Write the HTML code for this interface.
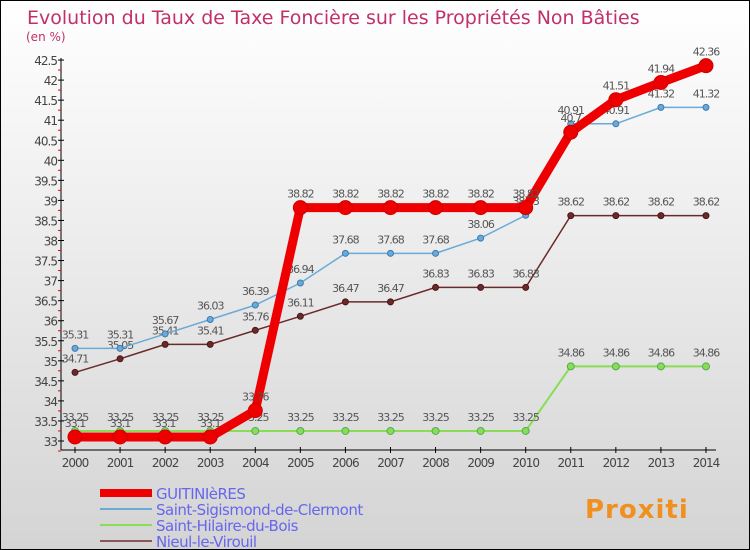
<!DOCTYPE html>
<html><head><meta charset="utf-8"><style>
body{margin:0}
#c{position:relative;width:750px;height:550px;box-sizing:border-box;border:1px solid #000;background:linear-gradient(#fff,#d4d4d4);font-family:"DejaVu Sans","Liberation Sans",sans-serif;overflow:hidden}
</style></head><body>
<div id="c">
<svg id="s" width="750" height="550" style="position:absolute;left:-1px;top:-1px"></svg>
</div>
<script>
const years=[2000,2001,2002,2003,2004,2005,2006,2007,2008,2009,2010,2011,2012,2013,2014];
const guitinieres=[33.1,33.1,33.1,33.1,33.76,38.82,38.82,38.82,38.82,38.82,38.82,40.7,41.51,41.94,42.36];
const sigismond=[35.31,35.31,35.67,36.03,36.39,36.94,37.68,37.68,37.68,38.06,38.63,40.91,40.91,41.32,41.32];
const hilaire=[33.25,33.25,33.25,33.25,33.25,33.25,33.25,33.25,33.25,33.25,33.25,34.86,34.86,34.86,34.86];
const nieul=[34.71,35.05,35.41,35.41,35.76,36.11,36.47,36.47,36.83,36.83,36.83,38.62,38.62,38.62,38.62];
const yTicks=[33,33.5,34,34.5,35,35.5,36,36.5,37,37.5,38,38.5,39,39.5,40,40.5,41,41.5,42,42.5];
const NS="http://www.w3.org/2000/svg",s=document.getElementById('s');
const X=i=>75+i*45.07, Y=v=>441-(v-33)*40.1;
function el(t,a,p){const e=document.createElementNS(NS,t);for(const k in a)e.setAttribute(k,a[k]);(p||s).appendChild(e);return e;}
function tx(x,y,str,a){const e=el('text',Object.assign({x:x,y:y},a));e.textContent=str;return e;}
let t=tx(27,24,'Evolution du Taux de Taxe Foncière sur les Propriétés Non Bâties',{fill:'#c0306a','font-size':19});


t=tx(26,41,'(en %)',{fill:'#c0306a','font-size':12});


let a=el('line',{x1:61,y1:58,x2:61,y2:450,stroke:'#000'});


a=el('line',{x1:61,y1:450,x2:716,y2:450,stroke:'#000'});


yTicks.forEach(v=>{el('line',{x1:58,x2:64,y1:Y(v),y2:Y(v),stroke:'#000'});
 el('line',{x1:58,x2:61,y1:Y(v)+10,y2:Y(v)+10,stroke:'#e00'});
 const l=tx(57,Y(v)+5,String(v),{'text-anchor':'end','font-size':12,fill:'#444','letter-spacing':'-1'});
 
 });
years.forEach((y,i)=>{el('line',{x1:X(i),x2:X(i),y1:447,y2:453,stroke:'#000'});
 const l=tx(X(i),467,String(y),{'text-anchor':'middle','font-size':12,fill:'#444','letter-spacing':'-1'});
 
 });
function series(d,col,w,r,name,dark){
 const g=el('g',{});
 
 
 el('polyline',{points:d.map((v,i)=>X(i)+','+Y(v)).join(' '),fill:'none',stroke:col,'stroke-width':w},g);
 d.forEach((v,i)=>{const c=el('circle',{cx:X(i),cy:Y(v),r:r,fill:col,stroke:dark,'stroke-width':1},g);
  
  
  tx(X(i),Y(v)-10,String(v),{'text-anchor':'middle','font-size':11,fill:'#555','letter-spacing':'-1'},g);});
}
series(hilaire,'#88dd55',2,3.5,'series-saint-hilaire','#5a5');
series(nieul,'#6b2a2a',1.5,3,'series-nieul','#4a1515');
series(sigismond,'#6aaad8',1.5,3,'series-sigismond','#3a7ab0');
series(guitinieres,'#ee0000',9,7,'series-guitinieres','#c00');
const leg=[['GUITINIèRES','#ee0000',8],['Saint-Sigismond-de-Clermont','#6aaad8',2],['Saint-Hilaire-du-Bois','#88dd55',2],['Nieul-le-Virouil','#8a5555',2]];
leg.forEach((L,i)=>{const g=el('g',{});
 
 
 const y=493+i*16;
 el('line',{x1:100,x2:152,y1:y,y2:y,stroke:L[1],'stroke-width':L[2]},g);
 tx(156,y+6,L[0],{'font-size':15,fill:'#6666ee','letter-spacing':'-0.5'},g);});
t=tx(585,518,'Proxiti',{'font-size':26,'font-weight':'bold',fill:'#f09020','letter-spacing':'1'});


</script>
</body></html>
